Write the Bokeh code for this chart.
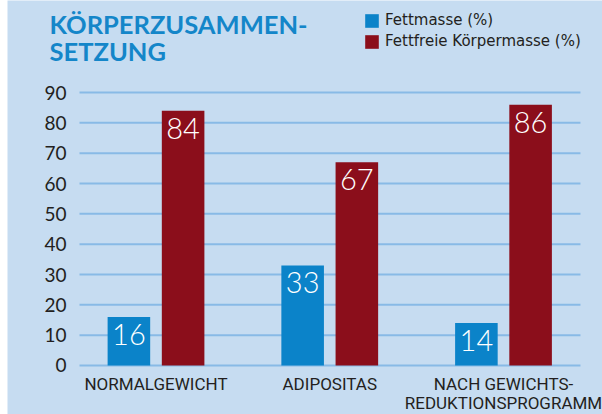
from bokeh.plotting import figure
from bokeh.models import ColumnDataSource, Range1d, Label, Legend, LegendItem, Spacer
from bokeh.layouts import row
from bokeh.transform import dodge
from bokeh.core.properties import value
from bokeh.embed import file_html
from bokeh.resources import INLINE

# ---- data ----
categories = ["NORMALGEWICHT", "ADIPOSITAS", "NACH GEWICHTS-\nREDUKTIONSPROGRAMM"]
fettmasse = [16, 33, 14]
fettfrei = [84, 67, 86]
y_ticks = [0, 10, 20, 30, 40, 50, 60, 70, 80, 90]
series_names = ["Fettmasse (%)", "Fettfreie Körpermasse (%)"]
title_lines = ["KÖRPERZUSAMMEN-", "SETZUNG"]

# ---- styles ----
BG = "#c6dcf1"
BLUE = "#0b83c9"
RED = "#8b0e1b"
GRID = "#88bae6"
TITLE = "#1486c9"
DARK = "#231f20"
OFF = 0.156
BW = 0.245
X0, X1 = -0.8547, 2.5698      # canvas extent in category units
Y0, Y1 = -16.154, 120.33      # canvas extent in value units
GX0, GX1 = -0.4403, 2.443     # extent of the plotting area (grid lines)

idx = list(range(len(categories)))
src = ColumnDataSource(dict(
    x=idx,
    fett=fettmasse,
    frei=fettfrei,
    fett_t=[str(v) for v in fettmasse],
    frei_t=[str(v) for v in fettfrei],
    cat=categories,
    zero=[0] * len(categories),
))
tick_src = ColumnDataSource(dict(
    y=y_ticks,
    lab=[str(t) for t in y_ticks],
    gx0=[GX0] * len(y_ticks),
    gx1=[GX1] * len(y_ticks),
))

p = figure(width=595, height=414,
           x_range=Range1d(X0, X1), y_range=Range1d(Y0, Y1),
           x_axis_type=None, y_axis_type=None,
           output_backend="svg", toolbar_location=None,
           min_border=0, min_border_left=0, min_border_right=0,
           min_border_top=0, min_border_bottom=0,
           background_fill_color=BG, border_fill_color=BG,
           outline_line_color=None)
p.xgrid.visible = False
p.ygrid.visible = False

# grid lines
p.segment(x0="gx0", x1="gx1", y0="y", y1="y", source=tick_src,
          line_color=GRID, line_width=2)

# y tick labels
p.text(x="gx0", y="y", text="lab", source=tick_src, x_offset=-13,
       text_align="right", text_baseline="middle",
       text_font=value("Lato"), text_font_size="19px", text_color=DARK)

# bars
r1 = p.vbar(x=dodge("x", -OFF, range=p.x_range), top="fett", bottom=0, width=BW,
            source=src, fill_color=BLUE, line_color=None)
r2 = p.vbar(x=dodge("x", OFF, range=p.x_range), top="frei", bottom=0, width=BW,
            source=src, fill_color=RED, line_color=None)

# value labels
for col, ycol, off in (("fett_t", "fett", -OFF), ("frei_t", "frei", OFF)):
    p.text(x=dodge("x", off, range=p.x_range), y=ycol, text=col, source=src,
           text_align="center", text_baseline="top", y_offset=7,
           text_color="white", text_font=value("Lato Light"),
           text_font_size="29px")

# category labels
p.text(x="x", y="zero", text="cat", source=src, y_offset=9,
       text_align="center", text_baseline="top", text_line_height=0.95,
       text_font=value("Roboto"), text_font_size="17px", text_color=DARK)

# title
for line, yy in zip(title_lines, (391, 364)):
    p.add_layout(Label(x=42, y=yy, x_units="screen", y_units="screen", text=line,
                       text_font="Lato", text_font_style="bold", text_font_size="25.5px",
                       text_color=TITLE, text_baseline="alphabetic"))

# legend
legend = Legend(items=[LegendItem(label=series_names[0], renderers=[r1]),
                       LegendItem(label=series_names[1], renderers=[r2])],
                location=(356, 364), orientation="vertical",
                glyph_width=17, glyph_height=17, label_standoff=5, spacing=3,
                padding=0, margin=0, border_line_color=None,
                background_fill_alpha=0,
                label_text_font="DejaVu Sans", label_text_font_size="15px",
                label_text_color=DARK, label_height=17)
p.add_layout(legend)

layout = row(Spacer(width=7, height=414), p)
open("out.html", "w").write(file_html(layout, INLINE))
